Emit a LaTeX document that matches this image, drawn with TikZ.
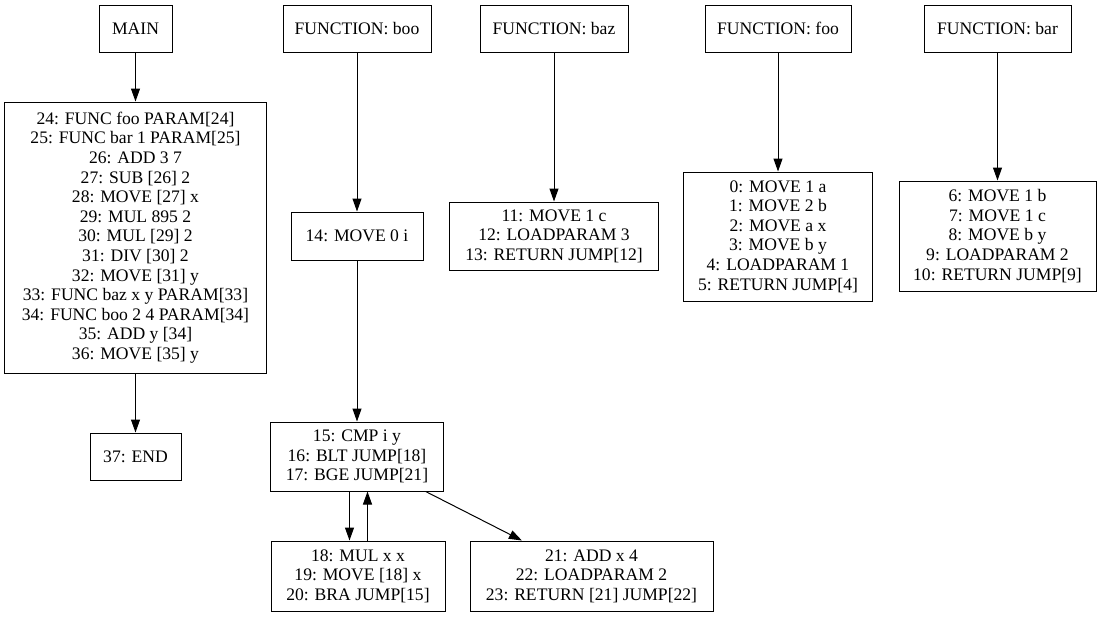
\documentclass[tikz,border=0pt]{standalone}
\usepackage{fontspec}
\setmainfont{Liberation Serif}
\usetikzlibrary{arrows.meta}
\begin{document}
\begin{tikzpicture}[x=1pt,y=1pt,
  box/.style={draw,line width=1pt,inner sep=0pt,align=center,font=\fontsize{17.6}{19.6}\selectfont},
  edge/.style={line width=1pt,-{Triangle[length=13pt,width=9pt]}}]
\useasboundingbox (0,0) rectangle (1103,-619);
% MAIN
\node[box,minimum width=73pt,minimum height=47pt] (main) at (135.5,-28.5) {MAIN};
\node[box,minimum width=262pt,minimum height=271pt] (mainbody) at (135.5,-237.5) {24: FUNC foo PARAM[24]\\25: FUNC bar 1 PARAM[25]\\26: ADD 3 7\\27: SUB [26] 2\\28: MOVE [27] x\\29: MUL 895 2\\30: MUL [29] 2\\31: DIV [30] 2\\32: MOVE [31] y\\33: FUNC baz x y PARAM[33]\\34: FUNC boo 2 4 PARAM[34]\\35: ADD y [34]\\36: MOVE [35] y};
\node[box,minimum width=91pt,minimum height=47pt] (mend) at (135.5,-456.5) {37: END};
% boo
\node[box,minimum width=148pt,minimum height=47pt] (boo) at (357,-28.5) {FUNCTION: boo};
\node[box,minimum width=132pt,minimum height=48pt] (n14) at (357,-236) {14: MOVE 0 i};
\node[box,minimum width=173pt,minimum height=69pt] (n15) at (357,-456.5) {15: CMP i y\\16: BLT JUMP[18]\\17: BGE JUMP[21]};
\node[box,minimum width=174pt,minimum height=70pt] (n18) at (358,-576) {18: MUL x x\\19: MOVE [18] x\\20: BRA JUMP[15]};
\node[box,minimum width=243pt,minimum height=70pt] (n21) at (591.5,-576) {21: ADD x 4\\22: LOADPARAM 2\\23: RETURN [21] JUMP[22]};
% baz
\node[box,minimum width=148pt,minimum height=47pt] (baz) at (554,-28.5) {FUNCTION: baz};
\node[box,minimum width=209pt,minimum height=68pt] (n11) at (554,-236) {11: MOVE 1 c\\12: LOADPARAM 3\\13: RETURN JUMP[12]};
% foo
\node[box,minimum width=146pt,minimum height=47pt] (foo) at (778,-28.5) {FUNCTION: foo};
\node[box,minimum width=189pt,minimum height=129pt] (n0) at (778,-236.5) {0: MOVE 1 a\\1: MOVE 2 b\\2: MOVE a x\\3: MOVE b y\\4: LOADPARAM 1\\5: RETURN JUMP[4]};
% bar
\node[box,minimum width=147pt,minimum height=47pt] (bar) at (997.5,-28.5) {FUNCTION: bar};
\node[box,minimum width=197pt,minimum height=110pt] (n6) at (997.5,-236) {6: MOVE 1 b\\7: MOVE 1 c\\8: MOVE b y\\9: LOADPARAM 2\\10: RETURN JUMP[9]};
% edges
\draw[edge] (main) -- (mainbody);
\draw[edge] (mainbody) -- (mend);
\draw[edge] (boo) -- (n14);
\draw[edge] (n14) -- (n15);
\draw[edge] ([xshift=-7.5pt]n15.south) -- ([xshift=-8.5pt]n18.north);
\draw[edge] ([xshift=9.5pt]n18.north) -- ([xshift=10.5pt]n15.south);
\draw[edge] (n15) -- (n21);
\draw[edge] (baz) -- (n11);
\draw[edge] (foo) -- (n0);
\draw[edge] (bar) -- (n6);
\end{tikzpicture}
\end{document}
